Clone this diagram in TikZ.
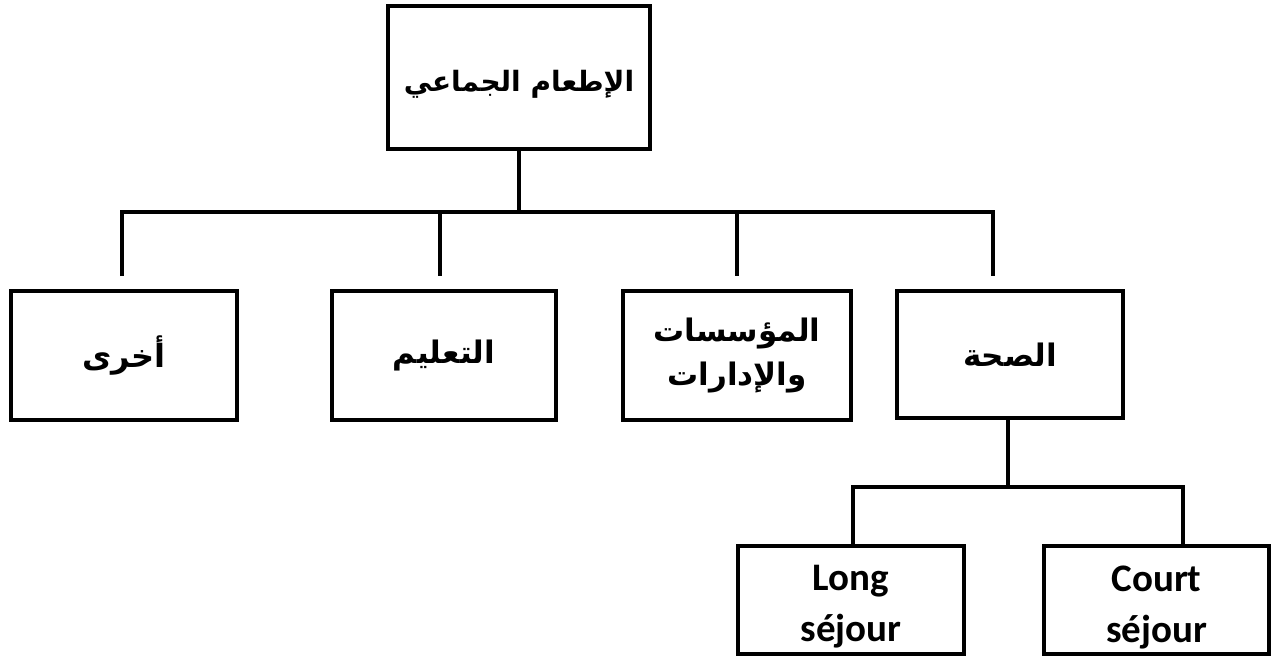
\documentclass[tikz,border=0pt]{standalone}
\usepackage{fontspec}
\setmainfont{Carlito}
\newfontfamily\arabicfont[Script=Arabic]{DejaVu Sans}
\TeXXeTstate=1
\begin{document}
\begin{tikzpicture}[x=1pt,y=-1pt,
  line width=4pt, line join=miter,
  box/.style={draw=black, line width=4pt, rectangle, inner sep=0pt, align=center},
  artext/.style={font=\arabicfont\bfseries\fontsize{31}{44}\selectfont},
  latext/.style={font=\bfseries\fontsize{39}{51}\selectfont, align=center, inner sep=0pt},
  conn/.style={draw=black, line width=4.5pt}]
\useasboundingbox (0,0) rectangle (1272,659);
% top box
\node[box, minimum width=262pt, minimum height=143pt] (top) at (519,77) {};
\node[font=\arabicfont\bfseries\fontsize{28}{40}\selectfont, inner sep=0pt] (toptext) at ([yshift=-7pt]top.center) {\beginR الإطعام الجماعي\endR};
% second level
\node[box, artext, font=\arabicfont\bfseries\fontsize{32}{44}\selectfont, minimum width=226pt, minimum height=129pt] (other) at (124,355.5) {\beginR أخرى\endR};
\node[box, artext, minimum width=224pt, minimum height=129pt] (edu) at (444,355.5) {\beginR التعليم\endR};
\node[box, artext, minimum width=228pt, minimum height=129pt] (inst) at (737,355.5) {\beginR المؤسسات\endR\\\beginR والإدارات\endR};
\node[box, artext, minimum width=226pt, minimum height=127pt] (health) at (1010,354.5) {\beginR الصحة\endR};
% third level
\node[box, minimum width=226pt, minimum height=108pt] (long) at (851,600) {};
\node[box, minimum width=225pt, minimum height=108pt] (court) at (1156.5,600) {};
\node[latext] (longtext) at ([yshift=-7pt]long.center) {Long\\séjour};
\node[latext] (courttext) at ([yshift=-7pt]court.center) {Court\\séjour};
% bus coordinates
\coordinate (bus) at (519,212);
\coordinate (b1) at (122,212);
\coordinate (b2) at (440,212);
\coordinate (b3) at (737,212);
\coordinate (b4) at (993,212);
\coordinate (e1) at (122,276);
\coordinate (e2) at (440,276);
\coordinate (e3) at (737,276);
\coordinate (e4) at (993,276);
\draw[conn] (top.south) -- (bus);
\draw[conn] (e1) -- (b1) -- (b4) -- (e4);
\draw[conn] (b2) -- (e2);
\draw[conn] (b3) -- (e3);
% lower bus
\coordinate (hb) at (1008,487);
\coordinate (h1) at (853,487);
\coordinate (h2) at (1183,487);
\draw[conn] (health.south -| hb) -- (hb);
\draw[conn] (long.north -| h1) -- (h1) -- (h2) -- (court.north -| h2);
\end{tikzpicture}
\end{document}
